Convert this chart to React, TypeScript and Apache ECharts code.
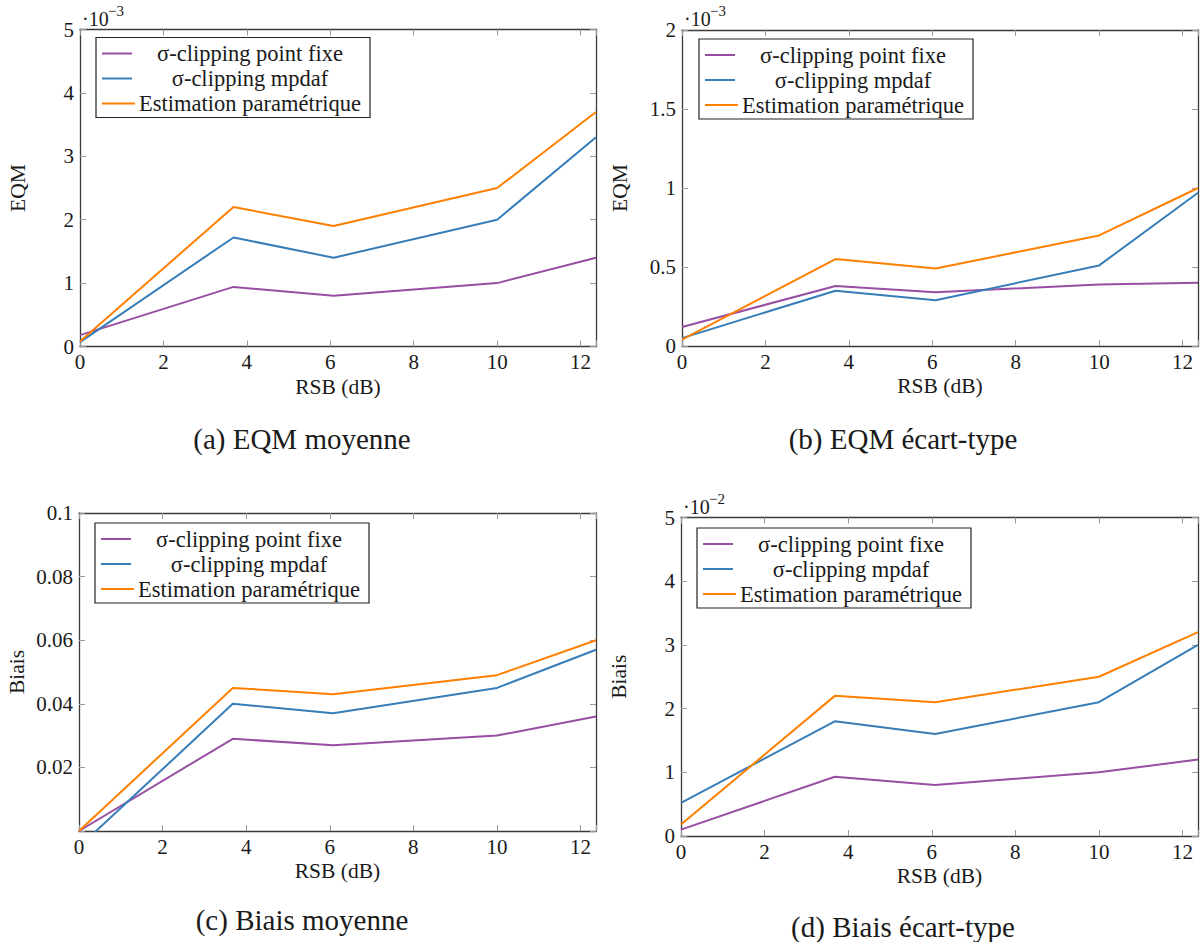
import React, { useEffect, useRef } from 'react';
import * as echarts from 'echarts';

// RSB (dB) sample positions
const rsb = [0, 3.68, 6.08, 10, 12.37];
const seriesNames = ['σ-clipping point fixe', 'σ-clipping mpdaf', 'Estimation paramétrique'];
const seriesColors = ['#984ea3', '#377eb8', '#ff7f00'];

// (a) EQM moyenne
const eqmMoyPointFixe = [0.00018, 0.00094, 0.0008, 0.001, 0.0014];
const eqmMoyMpdaf = [0.00007, 0.00172, 0.0014, 0.002, 0.0033];
const eqmMoyParam = [0.00008, 0.0022, 0.0019, 0.0025, 0.0037];
// (b) EQM écart-type
const eqmStdPointFixe = [0.00012, 0.00038, 0.00034, 0.00039, 0.0004];
const eqmStdMpdaf = [0.00005, 0.00035, 0.00029, 0.00051, 0.00097];
const eqmStdParam = [0.00004, 0.00055, 0.00049, 0.0007, 0.001];
// (c) Biais moyenne
const biaisMoyPointFixe = [0, 0.029, 0.027, 0.03, 0.036];
const biaisMoyMpdaf = [-0.005, 0.04, 0.037, 0.045, 0.057];
const biaisMoyParam = [0, 0.045, 0.043, 0.049, 0.06];
// (d) Biais écart-type
const biaisStdPointFixe = [0.001, 0.0093, 0.008, 0.01, 0.012];
const biaisStdMpdaf = [0.0052, 0.018, 0.016, 0.021, 0.03];
const biaisStdParam = [0.0018, 0.022, 0.021, 0.025, 0.032];

const captions = ['(a) EQM moyenne', '(b) EQM écart-type', '(c) Biais moyenne', '(d) Biais écart-type'];
const yNames = ['EQM', 'EQM', 'Biais', 'Biais'];
const xName = 'RSB (dB)';
const xMin = 0;
const xMax = 12.37;
const xInterval = 2;
const yMins = [0, 0, 0, 0];
const yMaxs = [0.005, 0.002, 0.1, 0.05];
const yIntervals = [0.001, 0.0005, 0.02, 0.01];
const yScales = [1e-3, 1e-3, 1, 1e-2];
const scaleExponents = ['−3', '−3', '', '−2'];
const hideZeroLabel = [false, false, true, false];

const panelData = [
  [eqmMoyPointFixe, eqmMoyMpdaf, eqmMoyParam],
  [eqmStdPointFixe, eqmStdMpdaf, eqmStdParam],
  [biaisMoyPointFixe, biaisMoyMpdaf, biaisMoyParam],
  [biaisStdPointFixe, biaisStdMpdaf, biaisStdParam],
];

// layout (pixels)
const layout = [
  { left: 80, top: 29.5, width: 516, height: 317, legDx: 16, legDy: 8, capX: 302, capY: 439 },
  { left: 682, top: 30, width: 516, height: 316, legDx: 17, legDy: 9, capX: 903, capY: 439 },
  { left: 79, top: 513, width: 517, height: 318, legDx: 16, legDy: 10, capX: 302, capY: 920 },
  { left: 681, top: 517.5, width: 517, height: 318.5, legDx: 16, legDy: 10.5, capX: 903, capY: 927 },
];

const FONT = 'Liberation Serif';
const TEXT = '#1a1a1a';
const FRAME = '#3a3a3a';
const TICK = '#9a9a9a';

const fmt = (x: number) => String(parseFloat(x.toFixed(4)));

function buildOption() {
  const grid: any[] = [];
  const xAxis: any[] = [];
  const yAxis: any[] = [];
  const series: any[] = [];
  const graphic: any[] = [];

  layout.forEach((L, i) => {
    grid.push({ left: L.left, top: L.top, width: L.width, height: L.height, containLabel: false });
    const axisLine = { show: true, onZero: false, lineStyle: { color: FRAME, width: 1.3 } };
    const axisTick = { show: true, inside: true, length: 6, lineStyle: { color: TICK, width: 1 } };
    xAxis.push({
      gridIndex: i, type: 'value', position: 'bottom', min: xMin, max: xMax, interval: xInterval,
      axisLine, axisTick, splitLine: { show: false },
      axisLabel: {
        margin: 5, color: TEXT, fontFamily: FONT, fontSize: 21,
        formatter: (v: number) => (Math.abs(v / xInterval - Math.round(v / xInterval)) < 1e-6 ? fmt(v) : ''),
      },
      name: xName, nameLocation: 'middle', nameGap: 29,
      nameTextStyle: { color: TEXT, fontFamily: FONT, fontSize: 21.5 },
    });
    xAxis.push({
      gridIndex: i, type: 'value', position: 'top', min: xMin, max: xMax, interval: xInterval,
      axisLine, axisTick, splitLine: { show: false }, axisLabel: { show: false },
    });
    yAxis.push({
      gridIndex: i, type: 'value', position: 'left', min: yMins[i], max: yMaxs[i], interval: yIntervals[i],
      axisLine, axisTick, splitLine: { show: false },
      axisLabel: {
        margin: 6, color: TEXT, fontFamily: FONT, fontSize: 21,
        formatter: (v: number) => (hideZeroLabel[i] && Math.abs(v) < 1e-12 ? '' : fmt(v / yScales[i])),
      },
      name: yNames[i], nameLocation: 'middle', nameGap: 51,
      nameTextStyle: { color: TEXT, fontFamily: FONT, fontSize: 21.5 },
    });
    yAxis.push({
      gridIndex: i, type: 'value', position: 'right', min: yMins[i], max: yMaxs[i], interval: yIntervals[i],
      axisLine, axisTick, splitLine: { show: false }, axisLabel: { show: false },
    });

    panelData[i].forEach((vals, k) => {
      series.push({
        type: 'line', name: seriesNames[k], xAxisIndex: 2 * i, yAxisIndex: 2 * i,
        data: rsb.map((x, j) => [x, vals[j]]),
        showSymbol: false, symbol: 'none', clip: true,
        lineStyle: { color: seriesColors[k], width: 2 },
        itemStyle: { color: seriesColors[k] },
        z: 3 + k,
      });
    });

    // legend box (pgfplots style, centered text)
    const bx = L.left + L.legDx;
    const by = L.top + L.legDy;
    graphic.push({
      type: 'rect', z: 100, shape: { x: bx, y: by, width: 274, height: 80 },
      style: { fill: '#ffffff', stroke: '#222222', lineWidth: 1.2 },
    });
    seriesNames.forEach((nm, k) => {
      const ry = by + 16 + 25 * k;
      graphic.push({
        type: 'line', z: 101, shape: { x1: bx + 6, y1: ry, x2: bx + (k === 2 ? 39 : 36), y2: ry },
        style: { stroke: seriesColors[k], lineWidth: 2 },
      });
      graphic.push({
        type: 'text', z: 101, x: bx + 154, y: ry,
        style: {
          text: nm, fill: TEXT, fontFamily: FONT, fontSize: 22.5,
          align: 'center', verticalAlign: 'middle', textAlign: 'center', textVerticalAlign: 'middle',
        },
      });
    });

    // scale factor
    if (scaleExponents[i]) {
      graphic.push({
        type: 'text', z: 101, x: L.left + 2, y: L.top - 11,
        style: {
          text: '·10', fill: TEXT, fontFamily: FONT, fontSize: 20,
          align: 'left', verticalAlign: 'middle', textAlign: 'left', textVerticalAlign: 'middle',
        },
      });
      graphic.push({
        type: 'text', z: 101, x: L.left + 28, y: L.top - 19,
        style: {
          text: scaleExponents[i], fill: TEXT, fontFamily: FONT, fontSize: 15,
          align: 'left', verticalAlign: 'middle', textAlign: 'left', textVerticalAlign: 'middle',
        },
      });
    }

    // caption
    graphic.push({
      type: 'text', z: 101, x: L.capX, y: L.capY,
      style: {
        text: captions[i], fill: TEXT, fontFamily: FONT, fontSize: 29,
        align: 'center', verticalAlign: 'middle', textAlign: 'center', textVerticalAlign: 'middle',
      },
    });
  });

  return {
    animation: false,
    backgroundColor: '#ffffff',
    textStyle: { fontFamily: FONT },
    grid, xAxis, yAxis, series, graphic,
  };
}

export default function App() {
  const ref = useRef<HTMLDivElement>(null);
  useEffect(() => {
    if (!ref.current) return;
    const chart = echarts.init(ref.current, undefined, { renderer: 'svg' });
    chart.setOption(buildOption() as any);
    return () => chart.dispose();
  }, []);
  return (
    <div
      ref={ref}
      style={{ position: 'absolute', left: 0, top: 0, width: 1203, height: 942, background: '#fff' }}
    />
  );
}
